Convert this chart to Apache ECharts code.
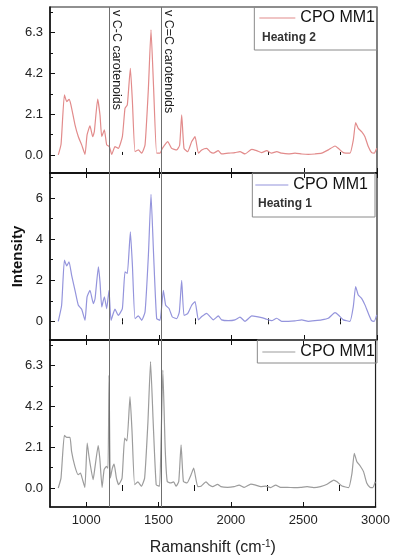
<!DOCTYPE html>
<html>
<head>
<meta charset="utf-8">
<script src="https://cdn.jsdelivr.net/npm/echarts@6/dist/echarts.min.js"></script>
<style>
  html, body { margin: 0; padding: 0; background: #fff; }
  #chart { width: 393px; height: 558px; }
</style>
</head>
<body>
<div id="chart"></div>
<script>
// Raman shift (cm-1) and intensity, one pair of arrays per panel
const heating2Shift = [807, 826, 849, 865, 881, 894, 922, 945, 968, 991, 1005, 1025, 1044, 1055, 1078, 1094, 1106, 1124, 1140, 1158, 1175, 1197, 1220, 1248, 1266, 1282, 1303, 1317, 1335, 1358, 1381, 1404, 1427, 1445, 1463, 1484, 1507, 1523, 1560, 1587, 1622, 1642, 1656, 1672, 1697, 1725, 1748, 1771, 1794, 1828, 1851, 1874, 1908, 1931, 1977, 2023, 2057, 2092, 2138, 2172, 2206, 2241, 2275, 2310, 2344, 2390, 2436, 2482, 2527, 2573, 2619, 2665, 2711, 2734, 2768, 2814, 2837, 2853, 2871, 2894, 2917, 2940, 2963, 2981, 2998];
const heating2Intensity = [0.0, 0.55, 3.09, 2.75, 2.86, 2.58, 1.55, 0.94, 0.52, 0.03, 1.03, 1.5, 0.94, 1.2, 2.88, 2.06, 0.94, 1.29, 0.52, 0.43, 0.03, 0.43, 0.34, 0.94, 2.4, 2.58, 4.46, 2.75, 0.17, 0.26, 0.09, 0.52, 3.43, 6.44, 3.43, 0.09, 0.09, 0.34, 0.69, 0.34, 0.26, 0.5, 2.06, 0.34, 0.17, 0.69, 0.94, 0.09, 0.26, 0.34, 0.17, 0.09, 0.22, 0.05, 0.09, 0.12, 0.17, 0.05, 0.29, 0.22, 0.12, 0.22, 0.09, 0.17, 0.09, 0.05, 0.09, 0.05, 0.03, 0.05, 0.09, 0.26, 0.46, 0.34, 0.12, 0.09, 0.77, 1.66, 1.37, 1.2, 0.94, 0.43, 0.12, 0.09, 0.34];

const heating1Shift = [807, 830, 849, 865, 881, 899, 922, 945, 968, 991, 1005, 1025, 1048, 1060, 1083, 1094, 1106, 1124, 1140, 1156, 1170, 1197, 1220, 1248, 1266, 1282, 1303, 1317, 1335, 1358, 1381, 1404, 1427, 1445, 1463, 1484, 1507, 1530, 1546, 1569, 1592, 1622, 1640, 1656, 1672, 1697, 1725, 1748, 1771, 1794, 1828, 1851, 1874, 1908, 1931, 1977, 2023, 2057, 2092, 2138, 2172, 2206, 2241, 2275, 2310, 2344, 2390, 2436, 2482, 2527, 2573, 2619, 2665, 2711, 2734, 2768, 2814, 2837, 2853, 2871, 2894, 2917, 2940, 2963, 2981, 2998];
const heating1Intensity = [0.0, 0.78, 2.98, 2.7, 2.9, 2.24, 1.51, 0.78, 0.59, 0.05, 1.19, 1.51, 0.86, 1.1, 2.65, 1.92, 0.7, 1.19, 0.62, 1.51, 0.05, 0.59, 0.29, 0.62, 2.41, 2.33, 4.36, 2.73, 0.13, 0.26, 0.05, 0.46, 3.22, 6.18, 3.22, 0.13, 0.05, 1.51, 0.78, 0.62, 0.21, 0.13, 0.46, 2.0, 0.29, 0.37, 0.78, 0.96, 0.07, 0.23, 0.39, 0.23, 0.07, 0.26, 0.07, 0.03, 0.07, 0.2, 0.0, 0.26, 0.23, 0.18, 0.1, 0.03, 0.15, 0.0, 0.0, 0.02, 0.07, 0.0, 0.03, 0.07, 0.15, 0.42, 0.31, 0.07, 0.0, 0.72, 1.69, 1.28, 1.12, 0.8, 0.39, 0.03, 0.0, 0.31];

const rawShift = [807, 826, 849, 865, 888, 899, 922, 945, 961, 972, 991, 1007, 1021, 1048, 1060, 1083, 1094, 1110, 1124, 1140, 1151, 1158, 1167, 1181, 1193, 1209, 1225, 1248, 1266, 1282, 1303, 1317, 1335, 1358, 1381, 1404, 1427, 1445, 1463, 1484, 1507, 1518, 1530, 1546, 1560, 1583, 1605, 1622, 1640, 1656, 1672, 1697, 1725, 1743, 1771, 1794, 1828, 1851, 1874, 1908, 1931, 1977, 2023, 2057, 2092, 2138, 2172, 2206, 2241, 2275, 2310, 2344, 2390, 2436, 2482, 2527, 2573, 2619, 2665, 2711, 2734, 2768, 2814, 2837, 2853, 2871, 2894, 2917, 2940, 2963, 2981, 2998];
const rawIntensity = [0.0, 0.51, 2.7, 2.6, 2.6, 1.88, 1.11, 0.68, 0.77, 0.51, 0.03, 2.3, 1.54, 0.43, 1.02, 2.18, 1.54, 0.03, 0.94, 1.11, 1.02, 5.8, 0.51, 1.02, 1.23, 0.51, 0.17, 0.51, 2.56, 2.42, 4.69, 2.9, 0.17, 0.31, 0.09, 0.51, 3.41, 6.49, 3.41, 0.17, 0.09, 2.56, 6.06, 2.05, 0.34, 0.26, 0.31, 0.09, 0.34, 2.22, 0.34, 0.26, 0.68, 1.02, 0.07, 0.09, 0.32, 0.15, 0.07, 0.19, 0.07, 0.03, 0.07, 0.15, 0.03, 0.2, 0.15, 0.07, 0.1, 0.02, 0.15, 0.03, 0.03, 0.02, 0.03, 0.07, 0.02, 0.07, 0.19, 0.41, 0.32, 0.1, 0.02, 0.75, 1.78, 1.35, 1.13, 0.84, 0.24, 0.03, 0.02, 0.32];

// carotenoid band positions (vertical guide lines)
const carotenoidShift = [1158, 1518];
const carotenoidLabels = ['v C-C carotenoids', 'v C=C carotenoids'];

// tick labels
const xMajorTicks = [1000, 1500, 2000, 2500, 3000];
const xMinorTicks = [1250, 1750, 2250, 2750];
const yMajorTicks = [[0, 2.1, 4.2, 6.3], [0, 2, 4, 6], [0, 2.1, 4.2, 6.3]];
const yMinorTicks = [[1.05, 3.15, 5.25, 7.35], [1, 3, 5, 7], [1.05, 3.15, 5.25, 7.35]];
const yRanges = [[-0.93, 7.62], [-0.91, 7.22], [-0.975, 7.6]];

const panelSubtitles = ['Heating 2', 'Heating 1', ''];
const seriesNames = ['CPO MM1 heating 2', 'CPO MM1 heating 1', 'CPO MM1'];
const lineColors = ['#e28b8b', '#9494dc', '#9c9c9c'];

const FONT = '"Liberation Sans", Arial, Helvetica, sans-serif';
const panels = [
  { top: 7, height: 166, shift: heating2Shift, value: heating2Intensity },
  { top: 173, height: 167, shift: heating1Shift, value: heating1Intensity },
  { top: 340, height: 167, shift: rawShift, value: rawIntensity },
];

const zip = (xs, ys) => xs.map((x, i) => [x, ys[i]]);

const grids = [];
const xAxes = [];
const yAxes = [];
const series = [];
const legends = [];

// legend boxes
const legendLayout = [
  { top: 7, right: 16, padding: [2, 2, 23, 5], itemWidth: 36 },
  { top: 173, right: 18, padding: [3, 7, 23, 3], itemWidth: 33 },
  { top: 340, right: 16, padding: [3, 2, 2, 5], itemWidth: 33 },
];

const tickStyle = { color: '#111', width: 1 };

panels.forEach((p, i) => {
  grids.push({
    left: 50, width: 327, top: p.top, height: p.height,
    show: true, borderColor: '#222', borderWidth: 1.2,
  });

  const xBase = {
    gridIndex: i, type: 'value', min: 750, max: 3000,
    splitLine: { show: false },
  };
  // bottom axis with major ticks (and labels on the last panel)
  const xMainIndex = xAxes.length;
  xAxes.push(Object.assign({}, xBase, {
    position: 'bottom',
    axisLine: { show: true, onZero: false, lineStyle: { color: '#111', width: 1.5 } },
    axisTick: { show: true, inside: true, length: 5, customValues: xMajorTicks, lineStyle: tickStyle },
    axisLabel: i === 2
      ? { show: true, customValues: xMajorTicks, fontSize: 13, color: '#222', fontFamily: FONT, margin: 7, formatter: (v) => String(v) }
      : { show: false },
    name: i === 2 ? 'Ramanshift (cm{sup|-1})' : '',
    nameLocation: 'middle',
    nameGap: 32,
    nameTextStyle: {
      fontSize: 16, color: '#222', fontFamily: FONT,
      rich: { sup: { fontSize: 10, verticalAlign: 'top', padding: [0, 0, 8, 0], color: '#222', fontFamily: FONT } },
    },
  }));
  xAxes.push(Object.assign({}, xBase, {
    position: 'bottom',
    axisLine: { show: false },
    axisTick: { show: true, inside: true, length: 3, customValues: xMinorTicks, lineStyle: tickStyle },
    axisLabel: { show: false },
  }));
  if (i > 0) {
    xAxes.push(Object.assign({}, xBase, {
      position: 'top',
      axisLine: { show: true, onZero: false, lineStyle: { color: '#111', width: 1.5 } },
      axisTick: { show: true, inside: true, length: 5, customValues: xMajorTicks, lineStyle: tickStyle },
      axisLabel: { show: false },
    }));
    xAxes.push(Object.assign({}, xBase, {
      position: 'top',
      axisLine: { show: false },
      axisTick: { show: true, inside: true, length: 3, customValues: xMinorTicks, lineStyle: tickStyle },
      axisLabel: { show: false },
    }));
  }

  const yMainIndex = yAxes.length;
  yAxes.push({
    gridIndex: i, type: 'value', position: 'left', min: yRanges[i][0], max: yRanges[i][1],
    splitLine: { show: false },
    axisLine: { show: true, onZero: false, lineStyle: { color: '#111', width: 1.5 } },
    axisTick: { show: true, inside: true, length: 5, customValues: yMajorTicks[i], lineStyle: tickStyle },
    axisLabel: {
      show: true, customValues: yMajorTicks[i], fontSize: 13, color: '#222', fontFamily: FONT, margin: 7,
      formatter: (v) => (i === 1 ? String(Math.round(v)) : v.toFixed(1)),
    },
    name: i === 1 ? 'Intensity' : '',
    nameLocation: 'middle',
    nameGap: 25,
    nameTextStyle: { fontSize: 15, fontWeight: 'bold', color: '#111', fontFamily: FONT },
  });
  yAxes.push({
    gridIndex: i, type: 'value', position: 'left', offset: 0, min: yRanges[i][0], max: yRanges[i][1],
    splitLine: { show: false },
    axisLine: { show: false },
    axisTick: { show: true, inside: true, length: 3, customValues: yMinorTicks[i], lineStyle: tickStyle },
    axisLabel: { show: false },
  });

  series.push({
    name: seriesNames[i],
    type: 'line',
    xAxisIndex: xMainIndex,
    yAxisIndex: yMainIndex,
    data: zip(p.shift, p.value),
    symbol: 'none',
    smooth: 0.15,
    lineStyle: { color: lineColors[i], width: 1.2 },
    itemStyle: { color: lineColors[i] },
    markLine: {
      silent: true,
      symbol: 'none',
      label: { show: false },
      lineStyle: { color: '#6f6f6f', width: 1, type: 'solid' },
      data: carotenoidShift.map((x) => ({ xAxis: x })),
    },
  });

  const lg = legendLayout[i];
  legends.push({
    data: [seriesNames[i]],
    top: lg.top, right: lg.right,
    padding: lg.padding,
    icon: 'rect',
    itemWidth: lg.itemWidth, itemHeight: 1.2,
    itemGap: 4,
    selectedMode: false,
    borderColor: '#8a8a8a', borderWidth: 1,
    formatter: () => 'CPO MM1',
    textStyle: { fontSize: 16, color: '#111', fontFamily: FONT, lineHeight: 18 },
  });
});

const chart = echarts.init(document.getElementById('chart'), null, { renderer: 'canvas' });
chart.setOption({
  animation: false,
  backgroundColor: '#fff',
  grid: grids,
  xAxis: xAxes,
  yAxis: yAxes,
  legend: legends,
  series: series,
});

// annotation texts placed through the chart's own scales
const graphics = [];
carotenoidShift.forEach((x, k) => {
  const px = chart.convertToPixel({ xAxisIndex: 0 }, x);
  const py = chart.convertToPixel({ yAxisIndex: 0 }, yRanges[0][1]);
  graphics.push({
    type: 'text',
    x: px + 7, y: py + 3,
    rotation: -Math.PI / 2,
    z: 100,
    style: {
      text: carotenoidLabels[k], fontSize: 12.5, fill: '#1a1a1a', fontFamily: FONT,
      align: 'left', verticalAlign: 'middle',
    },
  });
});
const subtitlePos = [[262, 38], [258, 204]];
subtitlePos.forEach((pos, k) => {
  graphics.push({
    type: 'text', x: pos[0], y: pos[1],
    z: 100,
    style: {
      text: panelSubtitles[k], fontSize: 12, fontWeight: 600, fill: '#333', fontFamily: FONT,
      align: 'left', verticalAlign: 'middle',
    },
  });
});
chart.setOption({ graphic: graphics });
</script>
</body>
</html>
